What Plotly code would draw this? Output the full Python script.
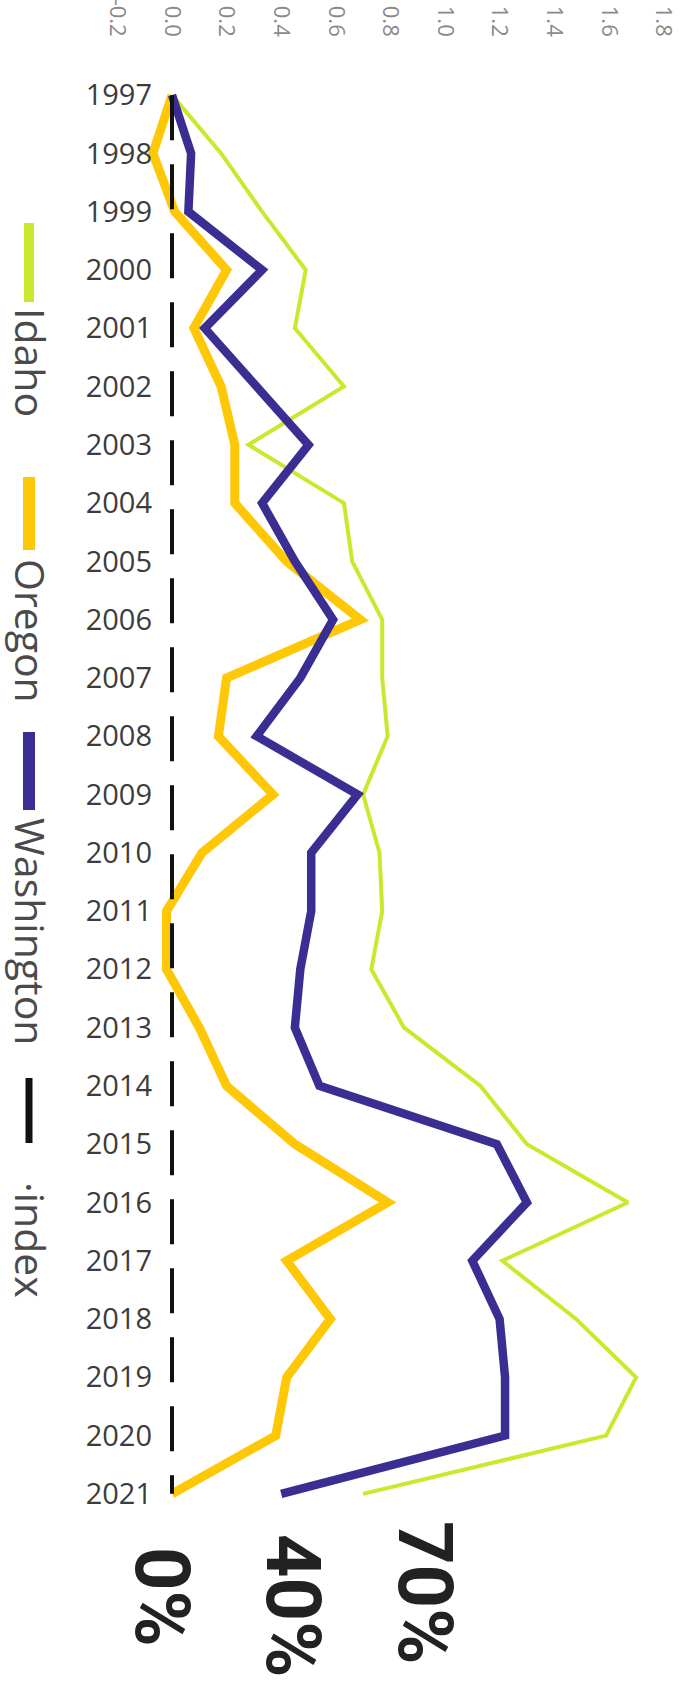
import plotly.graph_objects as go

years = list(range(1997, 2022))
idaho = [0.0, 0.18, 0.33, 0.49, 0.45, 0.63, 0.28, 0.63, 0.66, 0.77, 0.77, 0.79, 0.70, 0.76, 0.77, 0.73, 0.85, 1.13, 1.30, 1.67, 1.21, 1.48, 1.70, 1.59, 0.70]
oregon = [0.0, -0.07, 0.01, 0.20, 0.08, 0.18, 0.23, 0.23, 0.42, 0.69, 0.20, 0.17, 0.37, 0.11, -0.02, -0.02, 0.10, 0.20, 0.45, 0.79, 0.42, 0.58, 0.42, 0.38, 0.0]
washington = [0.0, 0.07, 0.06, 0.33, 0.12, 0.31, 0.50, 0.33, 0.45, 0.59, 0.47, 0.31, 0.68, 0.51, 0.51, 0.47, 0.45, 0.54, 1.19, 1.30, 1.10, 1.20, 1.22, 1.22, 0.40]
index = [0.0] * len(years)

x_ticks = [-0.2, 0.0, 0.2, 0.4, 0.6, 0.8, 1.0, 1.2, 1.4, 1.6, 1.8]
x_ticktext = ["-0.2", "0.0", "0.2", "0.4", "0.6", "0.8", "1.0", "1.2", "1.4", "1.6", "1.8"]
series_names = ["Idaho", "Oregon", "Washington", "\u00b7index"]
end_labels = ["0%", "40%", "70%"]

C_IDAHO = "#cbe82e"
C_OREGON = "#ffc806"
C_WASH = "#3b2e93"
C_INDEX = "#111111"

W, H = 695, 1691
L, R, T, B = 114, 5, 66, 168
PW, PH = W - L - R, H - T - B
ZERO_PX, PX_PER_UNIT = 172, 273.0
xmin = -(ZERO_PX - L) / PX_PER_UNIT
xmax = (W - R - ZERO_PX) / PX_PER_UNIT


def px(xp):
    return (xp - L) / PW


def py(yp):
    return (H - B - yp) / PH


fig = go.Figure()
fig.add_trace(go.Scatter(x=idaho, y=years, mode="lines", name=series_names[0],
                         line=dict(color=C_IDAHO, width=4)))
fig.add_trace(go.Scatter(x=oregon, y=years, mode="lines", name=series_names[1],
                         line=dict(color=C_OREGON, width=9)))
fig.add_trace(go.Scatter(x=washington, y=years, mode="lines", name=series_names[2],
                         line=dict(color=C_WASH, width=8.5)))
fig.add_trace(go.Scatter(x=index, y=years, mode="lines", name=series_names[3],
                         line=dict(color=C_INDEX, width=4, dash="45px,24px")))

# rotated legend (drawn manually since the legend cannot be rotated)
legend_items = [
    (series_names[0], C_IDAHO, 10, 223, 302, 362),
    (series_names[1], C_OREGON, 12, 477, 550, 631),
    (series_names[2], C_WASH, 12, 732, 810, 932),
    (series_names[3], C_INDEX, 7, 1078, 1143, 1240),
]
shapes = []
annotations = []
for name, col, wd, y0, y1, yt in legend_items:
    shapes.append(dict(type="line", xref="paper", yref="paper",
                       x0=px(29), x1=px(29), y0=py(y0), y1=py(y1),
                       line=dict(color=col, width=wd)))
    annotations.append(dict(text=name, xref="paper", yref="paper",
                            x=px(31), y=py(yt), xanchor="center", yanchor="middle",
                            textangle=90, showarrow=False,
                            font=dict(family="Open Sans", size=41, color="#4a4a4a")))

for txt, xp, yp in zip(end_labels, [162, 293, 425], [1597, 1605, 1592]):
    annotations.append(dict(text=txt, xref="paper", yref="paper",
                            x=px(xp), y=py(yp), xanchor="center", yanchor="middle",
                            textangle=90, showarrow=False,
                            font=dict(family="Roboto", size=76, color="#222222", weight="bold")))

fig.update_layout(
    width=W, height=H,
    margin=dict(l=L, r=R, t=T, b=B, autoexpand=False),
    paper_bgcolor="white", plot_bgcolor="white",
    showlegend=False,
    shapes=shapes, annotations=annotations,
    xaxis=dict(side="top", range=[xmin, xmax], tickmode="array", tickvals=x_ticks,
               ticktext=x_ticktext, tickangle=90, showgrid=False, zeroline=False,
               showline=False, ticks="", ticklabelstandoff=25, automargin=False,
               tickfont=dict(family="Open Sans", size=22, color="#8a8a8a")),
    yaxis=dict(range=[2021.5, 1996.5], tickmode="array", tickvals=years,
               ticktext=[str(y) for y in years], showgrid=False, zeroline=False,
               showline=False, ticks="", ticklabelstandoff=-39, automargin=False,
               tickfont=dict(family="Open Sans", size=29, color="#3c3c3c")),
)

fig.write_html("out.html", config={"displayModeBar": False},
               post_script="document.body.style.margin='0px';")
